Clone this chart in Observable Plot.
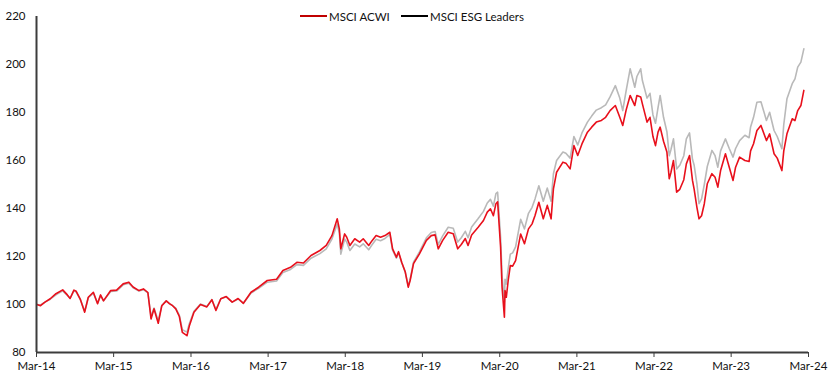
<!DOCTYPE html>
<html>
<head>
<meta charset="utf-8">
<script src="https://cdn.jsdelivr.net/npm/d3@7"></script>
<script src="https://cdn.jsdelivr.net/npm/@observablehq/plot@0.6"></script>
<style>
  html, body { margin: 0; padding: 0; background: #fff; }
  #wrap { position: relative; width: 830px; height: 377px; font-family: Lato, "Open Sans", sans-serif; }
  #legend { position: absolute; top: 8px; left: 0; width: 830px; height: 16px; font-size: 11.5px; color: #111; }
  .item { position: absolute; top: 0; display: flex; align-items: center; height: 16px; white-space: nowrap; }
  .swatch { width: 27px; height: 2px; margin-right: 2px; }
</style>
</head>
<body>
<div id="wrap">
  <div id="chart"></div>
  <div id="legend"></div>
</div>
<script>
const seriesNames = ["MSCI ACWI", "MSCI ESG Leaders"];
const xTickLabels = ["Mar-14","Mar-15","Mar-16","Mar-17","Mar-18","Mar-19","Mar-20","Mar-21","Mar-22","Mar-23","Mar-24"];
const yTicks = [80, 100, 120, 140, 160, 180, 200, 220];

const dates = [
"2014-03-03","2014-03-20","2014-04-10","2014-05-05","2014-06-01","2014-07-03","2014-07-25","2014-08-07","2014-08-25","2014-09-05",
"2014-09-25","2014-10-15","2014-11-01","2014-11-25","2014-12-15","2014-12-29","2015-01-12","2015-02-15","2015-03-15","2015-04-15",
"2015-05-12","2015-06-01","2015-06-29","2015-07-20","2015-08-10","2015-08-25","2015-09-08","2015-09-28","2015-10-15","2015-11-05",
"2015-11-20","2015-12-05","2015-12-20","2016-01-06","2016-01-20","2016-02-11","2016-02-22","2016-03-15","2016-04-15","2016-05-15",
"2016-06-08","2016-06-27","2016-07-20","2016-08-15","2016-09-12","2016-10-10","2016-11-04","2016-12-10","2017-01-15","2017-02-25",
"2017-04-10","2017-05-10","2017-06-15","2017-07-15","2017-08-15","2017-09-20","2017-11-01","2017-12-01","2017-12-28","2018-01-22",
"2018-02-01","2018-02-08","2018-02-26","2018-03-08","2018-03-23","2018-04-15","2018-05-08","2018-05-25","2018-06-20","2018-07-05",
"2018-07-25","2018-08-15","2018-09-05","2018-09-28","2018-10-11","2018-10-29","2018-11-08","2018-11-23","2018-12-10","2018-12-24",
"2019-01-02","2019-01-18","2019-02-15","2019-03-20","2019-04-12","2019-04-30","2019-05-15","2019-06-05","2019-07-01","2019-07-25",
"2019-08-15","2019-09-01","2019-09-20","2019-10-03","2019-10-20","2019-11-20","2019-12-15","2020-01-02","2020-01-17","2020-01-31",
"2020-02-12","2020-02-20","2020-03-05","2020-03-12","2020-03-23","2020-03-26","2020-04-01","2020-04-10","2020-04-20","2020-05-01",
"2020-05-15","2020-06-08","2020-06-26","2020-07-15","2020-08-01","2020-08-15","2020-09-02","2020-09-23","2020-10-12","2020-10-30",
"2020-11-10","2020-11-25","2020-12-25","2021-01-08","2021-01-28","2021-02-15","2021-03-05","2021-03-25","2021-04-20","2021-05-10",
"2021-06-01","2021-06-25","2021-07-15","2021-08-05","2021-08-30","2021-09-20","2021-10-04","2021-10-20","2021-11-08","2021-11-30",
"2021-12-10","2021-12-28","2022-01-05","2022-01-27","2022-02-10","2022-02-24","2022-03-08","2022-03-20","2022-03-30","2022-04-15",
"2022-05-01","2022-05-12","2022-05-20","2022-06-01","2022-06-16","2022-07-01","2022-07-20","2022-08-01","2022-08-16","2022-08-30",
"2022-09-07","2022-09-20","2022-09-30","2022-10-12","2022-10-25","2022-11-08","2022-11-30","2022-12-15","2022-12-28","2023-01-10",
"2023-02-02","2023-02-20","2023-03-10","2023-03-22","2023-04-10","2023-05-05","2023-05-25","2023-06-01","2023-06-15","2023-07-01",
"2023-07-20","2023-08-15","2023-08-30","2023-09-20","2023-10-05","2023-10-27","2023-11-05","2023-11-20","2023-12-15","2023-12-28",
"2024-01-10","2024-01-25","2024-02-08"
];

const acwi = [
100,99.5,101,102.4,104.5,106.1,104,102.5,106,105.5,
102,96.8,103,105.1,100.3,104,101.5,105.8,106,108.6,
109.3,107.3,105.8,106.5,105,94,98.2,92.2,99.5,101.5,
100.4,99.5,98.2,95,88.4,87,91,96.8,100,99,
102,97.5,102.4,103.3,101,102.5,100.5,105.1,107.2,110,
110.5,114.2,115.5,117.6,117.3,120.4,122.5,124.6,128.7,135.7,
131.5,123.2,129.4,128,124.6,127.4,126,127.4,124.6,126.5,
128.7,128,128.7,130.1,123.2,119.7,122,117.6,113.5,107.2,
110,117,121.1,126.7,128.7,129,123.2,126.7,130.1,129.5,
123.2,125,127.5,124.6,129,132.2,135,138.5,139.9,137,
142,142.8,123.9,107.2,94.7,105.8,103,110,116.2,116,
118.3,129.4,125.3,131.5,133.6,137.1,142.6,135.7,141.3,135.7,
148.2,155.1,159.3,158.9,156.5,166.2,162.1,166.9,171.8,173.9,
176,176.7,178,180.8,182.9,178,174.6,181,187.1,182.9,
187.1,186.5,183.6,176,178,170,166.2,171.8,173.9,168,
163.5,152.4,155,160,146.8,148,152,158.6,162.1,151.7,
148,140.5,135.7,137,142,150.3,154.5,153,148.9,155.8,
162.8,157.2,151.7,157.2,161.4,160,159.6,164,167,172.5,
174.6,168.3,171.1,162.8,161,155.8,164,171.1,177.4,176.6,
180.8,182.9,189.2
];

const esgLeaders = [
100,99.8,101,102.2,104,105.7,103.8,102.6,105.7,105.2,
102,97.2,102.8,104.7,100.6,103.7,101.6,105.4,105.6,108.2,
108.9,107,105.6,106.2,104.9,95,98.5,93.2,99.7,101.5,
100.4,99.5,98.5,95.5,89.5,88.5,92,97.2,100.2,99.2,
102,98,102.4,103.2,101,102.3,100.5,104.8,106.7,109.3,
109.8,113.3,114.6,116.6,116.3,119.3,121.2,123.2,127.3,133.5,
129.8,121,127.3,126,122.5,125.2,124,125.3,122.8,124.8,
127.2,126.6,127.5,129.2,122.6,119.3,121.7,117.4,113.5,107.8,
110.5,117.6,121.9,127.8,130,130.4,125,128.6,132.2,131.8,
126,127.8,130.5,127.8,132.3,135.8,138.8,142.3,143.8,141,
146.2,146.8,128,112,101,110.5,108.5,115,121,121.5,
124,135.5,131.5,138,140.5,144,149.5,143,148.5,143,
154.5,160,163.5,163,161,170,166.5,171.5,176,178.5,
181,182,183.2,186.5,191.2,186,180.8,189,198.2,190.5,
195,198.2,193.3,186,188,179,175.5,182,187.1,178,
172,162,164.5,169,156.5,158,162,169,171.5,160.5,
158,150.3,142,144,150,157.5,164.2,162,157.2,164,
169,165,161.4,165,168.3,170.5,169.5,174,178,184.3,
184.5,176.7,180.1,172.5,170,164.9,175,185.7,192,194,
198.9,201,206.5
];

const rows = dates.map((d, i) => ({date: new Date(d), acwi: acwi[i], esg: esgLeaders[i]}));
const tickDates = xTickLabels.map((_, i) => new Date(Date.UTC(2014 + i, 2, 1)));
const fmt = new Map(tickDates.map((d, i) => [+d, xTickLabels[i]]));

const font = 'Lato, "Open Sans", sans-serif';
const axisColor = "#3c3c3c";

const chart = Plot.plot({
  width: 830,
  height: 377,
  marginLeft: 36,
  marginRight: 22,
  marginTop: 16,
  marginBottom: 25,
  style: {fontFamily: font, fontSize: "11.5px", color: "#111", background: "#fff"},
  x: {type: "time", domain: [tickDates[0], tickDates[tickDates.length - 1]]},
  y: {domain: [80, 220]},
  marks: [
    Plot.axisY({ticks: yTicks, tickSize: 0, tickPadding: 11, label: null, fontSize: 11.5}),
    Plot.axisX({ticks: tickDates, tickFormat: d => fmt.get(+d), tickSize: 5, tickPadding: 4, label: null, stroke: axisColor, fontSize: 11.5}),
    Plot.lineY(rows, {x: "date", y: "esg", stroke: "#b9b9b9", strokeWidth: 1.6}),
    Plot.lineY(rows, {x: "date", y: "acwi", stroke: "#e8101c", strokeWidth: 1.6}),
    Plot.ruleX([tickDates[0]], {stroke: axisColor, strokeWidth: 2}),
    Plot.ruleY([80], {stroke: axisColor, strokeWidth: 2})
  ]
});
document.getElementById("chart").appendChild(chart);

const legend = document.getElementById("legend");
const legendColors = ["#c00000", "#000000"];
const legendLeft = [300, 401];
seriesNames.forEach((name, i) => {
  const item = document.createElement("div");
  item.className = "item";
  item.style.left = legendLeft[i] + "px";
  const sw = document.createElement("span");
  sw.className = "swatch";
  sw.style.background = legendColors[i];
  const tx = document.createElement("span");
  tx.textContent = name;
  item.appendChild(sw);
  item.appendChild(tx);
  legend.appendChild(item);
});
</script>
</body>
</html>
